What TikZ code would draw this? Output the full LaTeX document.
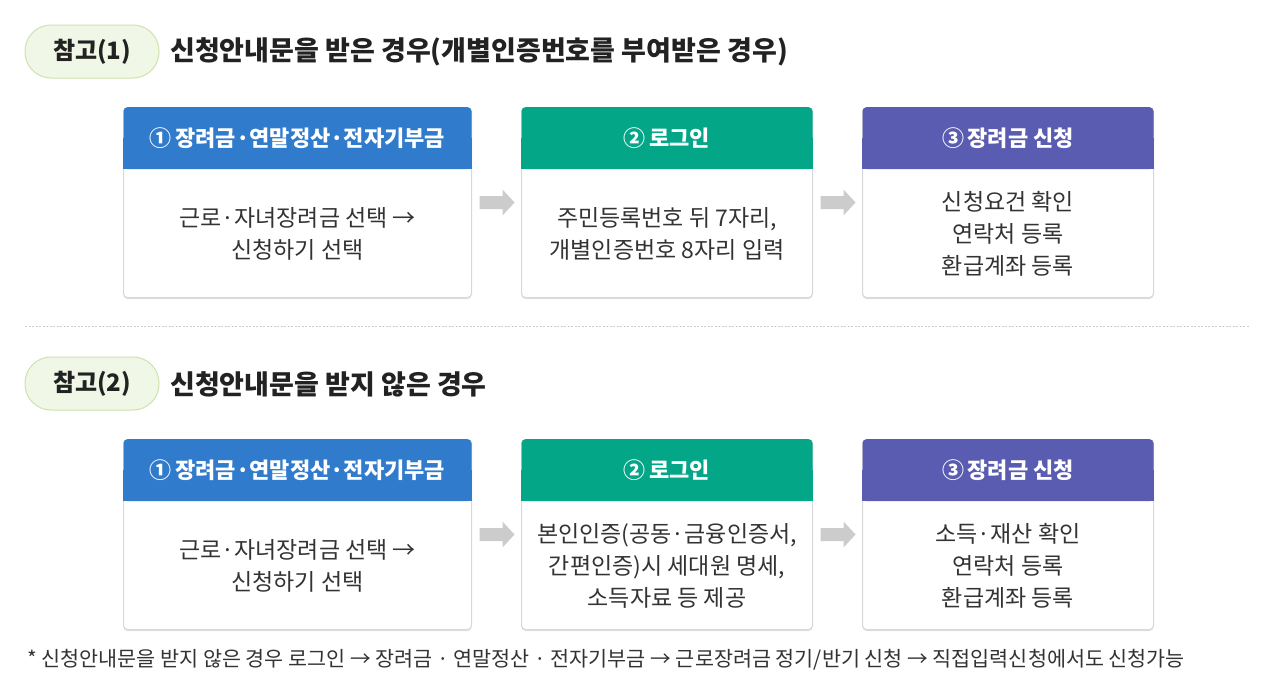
\documentclass[tikz,border=0pt]{standalone}
\usepackage{fontspec}
\setmainfont{Noto Sans CJK KR}
\usetikzlibrary{calc,shadows}
\definecolor{hblue}{RGB}{48,123,204}
\definecolor{hgreen}{RGB}{3,166,134}
\definecolor{hpurple}{RGB}{89,92,176}
\definecolor{pillfill}{RGB}{240,247,230}
\definecolor{pillline}{RGB}{205,228,172}
\definecolor{txt}{RGB}{51,51,51}
\definecolor{ttl}{RGB}{34,34,34}
\definecolor{cardline}{RGB}{216,216,216}
\definecolor{arrowgray}{RGB}{204,204,204}
\definecolor{sepgray}{RGB}{205,205,205}
\tikzset{
  pill/.style={draw=pillline, fill=pillfill, line width=1pt, rounded corners=26pt,
    minimum width=134pt, minimum height=53pt, inner sep=0pt,
    font=\fontsize{24}{28}\selectfont\bfseries, text=ttl},
  titletext/.style={anchor=west, inner sep=0pt, font=\fontsize{27}{30}\selectfont\bfseries, text=ttl},
  card/.style={draw=cardline, fill=white, line width=1pt, rounded corners=4pt,
    minimum height=190pt, inner sep=0pt, anchor=north west,
    drop shadow={shadow xshift=0pt, shadow yshift=-1.5pt, opacity=0.12, fill=black}},
  headbox/.style={rounded corners=4pt, minimum height=62pt, inner sep=0pt, anchor=north},
  headtext/.style={text=white, inner sep=0pt, font=\fontsize{22}{26}\selectfont\bfseries},
  bodytext/.style={align=center, inner sep=0pt, text=txt, font=\fontsize{23}{32}\selectfont},
  notetext/.style={anchor=west, inner sep=0pt, text=txt, font=\fontsize{20.7}{24}\selectfont},
  sep/.style={draw=sepgray, line width=1pt, dash pattern=on 2pt off 1.5pt}
}
% name, left x, top y, width, colour, header, body
\newcommand\stepcard[7]{%
  \node[card, minimum width=#4pt] (#1) at (#2,#3) {};
  \node[headbox, fill=#5, minimum width=#4pt] (#1h) at (#1.north) {};
  \fill[#5] (#1h.west) rectangle (#1h.south east);
  \node[headtext] (#1t) at (#1h.center) {#6};
  \node[bodytext] (#1b) at ($(#1h.south)!0.5!(#1.south)$) {#7};
}
\newcommand\grayarrow[2]{%
  \coordinate (#1#2m) at ($(#1.east)!0.5!(#2.west)$);
  \fill[arrowgray] ($(#1#2m)+(-17,-6.5)$) -- ($(#1#2m)+(6,-6.5)$) -- ($(#1#2m)+(6,-13)$)
    -- ($(#1#2m)+(18,0)$) -- ($(#1#2m)+(6,13)$) -- ($(#1#2m)+(6,6.5)$) -- ($(#1#2m)+(-17,6.5)$) -- cycle;
}
\begin{document}
\begin{tikzpicture}[x=1pt,y=-1pt]
\useasboundingbox[fill=white] (0,0) rectangle (1285,694);
% section 1
\node[pill] (p1) at (92,51.5) {참고(1)};
\node[titletext] (t1) at (170,52) {신청안내문을 받은 경우(개별인증번호를 부여받은 경우)};
\stepcard{a1}{123}{107}{348}{hblue}{①\,장려금·연말정산·전자기부금}{근로·자녀장려금 선택 →\\신청하기 선택}
\stepcard{a2}{521}{107}{291}{hgreen}{②\,로그인}{주민등록번호 뒤 7자리,\\개별인증번호 8자리 입력}
\stepcard{a3}{862}{107}{291}{hpurple}{③\,장려금 신청}{신청요건 확인\\연락처 등록\\환급계좌 등록}
\grayarrow{a1}{a2}
\grayarrow{a2}{a3}
% separator
\coordinate (s1) at (25,326);
\coordinate (s2) at (1250,326);
\draw[sep] (s1) -- (s2);
% section 2
\node[pill] (p2) at (92,383.5) {참고(2)};
\node[titletext] (t2) at (170,384) {신청안내문을 받지 않은 경우};
\stepcard{c1}{123}{439}{348}{hblue}{①\,장려금·연말정산·전자기부금}{근로·자녀장려금 선택 →\\신청하기 선택}
\stepcard{c2}{521}{439}{291}{hgreen}{②\,로그인}{본인인증(공동·금융인증서,\\간편인증)시 세대원 명세,\\소득자료 등 제공}
\stepcard{c3}{862}{439}{291}{hpurple}{③\,장려금 신청}{소득·재산 확인\\연락처 등록\\환급계좌 등록}
\grayarrow{c1}{c2}
\grayarrow{c2}{c3}
% footnote
\node[notetext] (fn) at (27,660) {* 신청안내문을 받지 않은 경우 로그인 → 장려금 · 연말정산 · 전자기부금 → 근로장려금 정기/반기 신청 → 직접입력신청에서도 신청가능};
\end{tikzpicture}
\end{document}
